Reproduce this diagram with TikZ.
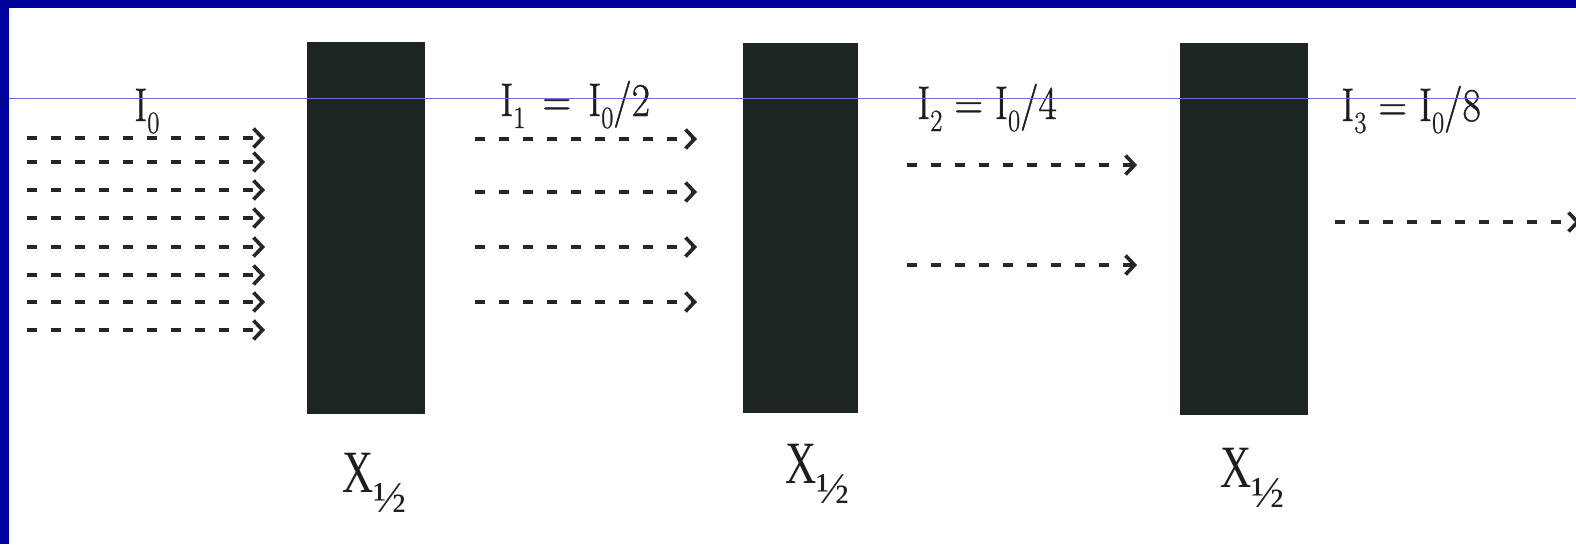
\documentclass[tikz,border=0pt]{standalone}
\usepackage{fontspec}
\usepackage{graphicx}
\newfontfamily\xfont{Liberation Serif}
\newfontfamily\ifont[FakeBold=0.9]{Latin Modern Roman}
\usetikzlibrary{arrows.meta}
\definecolor{framec}{RGB}{0,0,155}
\definecolor{guidec}{RGB}{110,110,215}
\definecolor{slabc}{RGB}{28,37,33}
\definecolor{rayc}{RGB}{38,38,38}
\definecolor{inkc}{RGB}{30,30,30}
\newcommand\Isub[1]{I\raisebox{-12pt}{\fontsize{31}{31}\selectfont #1}}
\newcommand\Xhalf{{\xfont\scalebox{0.72}[1]{X}\raisebox{-20pt}{\fontsize{44}{44}\selectfont ½}}}
\tikzset{
  slab/.style={fill=slabc, draw=none, inner sep=0pt},
  rayline/.style={draw=rayc, line width=3.3pt, dash pattern=on 10pt off 14pt,
    -{Straight Barb[length=9pt,width=19pt,line width=3.6pt]}},
  ilabel/.style={text=inkc, inner sep=0pt, font=\ifont\fontsize{47}{50}\selectfont, anchor=base west},
  xlabel/.style={text=inkc, inner sep=0pt, font=\xfont\fontsize{60}{64}\selectfont, anchor=base west},
}
\begin{document}
\begin{tikzpicture}[x=1pt,y=-1pt]
\fill[white] (0,0) rectangle (1576,544);
\useasboundingbox (0,0) rectangle (1576,544);
\fill[framec] (0,0) rectangle (1576,8);
\fill[framec] (0,0) rectangle (9,544);
% slabs
\node[slab, minimum width=118pt, minimum height=372pt] (s1) at (366,228) {};
\node[slab, minimum width=115pt, minimum height=370pt] (s2) at (800.5,228) {};
\node[slab, minimum width=128pt, minimum height=372pt] (s3) at (1244,229) {};
% rays
\foreach \y [count=\i] in {138,162,190,218,247,275,302,330} {
  \coordinate (a\i s) at (27,\y); \coordinate (a\i e) at (265,\y);
  \draw[rayline] (a\i s) -- (a\i e);
}
\foreach \y [count=\i] in {139,192,247,302} {
  \coordinate (b\i s) at (475,\y); \coordinate (b\i e) at (697,\y);
  \draw[rayline] (b\i s) -- (b\i e);
}
\foreach \y [count=\i] in {165,265} {
  \coordinate (c\i s) at (907,\y); \coordinate (c\i e) at (1137,\y);
  \draw[rayline] (c\i s) -- (c\i e);
}
\coordinate (d1s) at (1335,222); \coordinate (d1e) at (1580,222);
\draw[rayline] (d1s) -- (d1e);
% labels
\node[ilabel] (l0) at (134,121) {\scalebox{0.85}[1]{\Isub{0}}};
\node[ilabel] (l1) at (500,116) {\scalebox{0.85}[1]{\Isub{1}\hspace{20pt}=\hspace{20pt}\Isub{0}/2}};
\node[ilabel] (l2) at (917,119) {\scalebox{0.85}[1]{\Isub{2}\hspace{14pt}=\hspace{14pt}\Isub{0}/4}};
\node[ilabel] (l3) at (1341,121) {\scalebox{0.85}[1]{\Isub{3}\hspace{14pt}=\hspace{14pt}\Isub{0}/8}};
\node[xlabel] (x1) at (342,492) {\Xhalf};
\node[xlabel] (x2) at (785,483) {\Xhalf};
\node[xlabel] (x3) at (1220,487) {\Xhalf};
% guide line
\coordinate (g1) at (9,98); \coordinate (g2) at (1576,98);
\draw[guidec, line width=1pt] (g1) -- (g2);
\end{tikzpicture}
\end{document}
